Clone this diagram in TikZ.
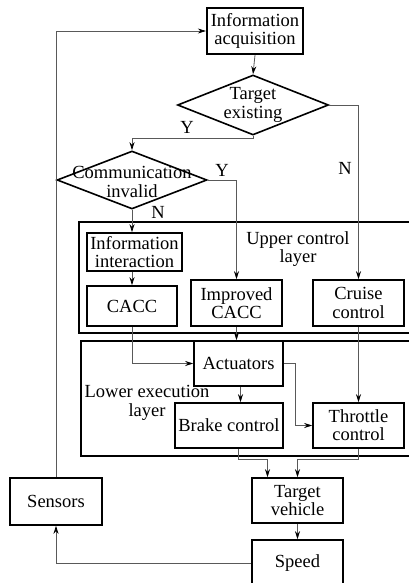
\documentclass[tikz,border=0pt]{standalone}
\usepackage{fontspec}
\setmainfont{Liberation Serif}
\usetikzlibrary{shapes.geometric,arrows.meta}
\begin{document}
\begin{tikzpicture}[x=1pt,y=-1pt,
 box/.style={draw,line width=1.6pt,inner sep=0pt,align=center,font=\fontsize{18.5}{18.3}\selectfont},
 dia/.style={draw,shape=diamond,line width=1.6pt,inner sep=0pt},
 txt/.style={align=center,inner sep=0pt,font=\fontsize{18.5}{18.3}\selectfont},
 layer/.style={draw,line width=1.6pt},
 conn/.style={draw=black!65,line width=0.8pt},
 arr/.style={conn,-{Stealth[length=8pt,width=5pt,black]}},
]
\clip (0,0) rectangle (409,583);
% layers
\draw[layer] (79,222) rectangle (430,333);
\draw[layer] (81,341) rectangle (430,456);
\node[txt] (ul) at (298,249) {Upper control\\layer};
\node[txt] (ll) at (147,403) {Lower execution\\layer};
% nodes
\node[box,line width=2.2pt,minimum width=96pt,minimum height=46pt] (acq) at (255,31) {Information\\acquisition};
\node[dia,minimum width=151pt,minimum height=60pt] (te) at (253,105) {};
\node[txt] (tet) at (253,105) {Target\\existing};
\node[dia,minimum width=150pt,minimum height=58pt] (ci) at (132,180) {};
\node[txt] (cit) at (132,182) {Communication\\invalid};
\node[box,minimum width=95pt,minimum height=38pt] (ii) at (134.5,252) {Information\\interaction};
\node[box,minimum width=90pt,minimum height=40pt] (ca) at (132,306) {CACC};
\node[box,minimum width=91pt,minimum height=46pt] (imp) at (236.5,303) {Improved\\CACC};
\node[box,minimum width=91pt,minimum height=46pt] (cc) at (358.5,303) {Cruise\\control};
\node[box,minimum width=89pt,minimum height=45pt] (act) at (238.5,363.5) {Actuators};
\node[box,minimum width=108pt,minimum height=45pt] (br) at (229,425.5) {Brake control};
\node[box,minimum width=91pt,minimum height=45pt] (th) at (358.5,425.5) {Throttle\\control};
\node[box,minimum width=91pt,minimum height=45pt] (tv) at (297.5,500.5) {Target\\vehicle};
\node[box,minimum width=91pt,minimum height=46pt] (sp) at (297.5,563) {Speed};
\node[box,minimum width=92pt,minimum height=47pt] (se) at (56,501.5) {Sensors};
% labels
\node[txt] (y1) at (187,127) {Y};
\node[txt] (n1) at (345,168) {N};
\node[txt] (y2) at (222,170) {Y};
\node[txt] (n2) at (158,212) {N};
% connectors
\draw[arr] (se.north) |- (acq.west);
\draw[arr] (sp.west) -| (se.south);
\draw[arr] (acq.south) -- (te.north);
\draw[arr] (te.east) -| (cc.north);
\draw[arr] (te.south) -- ++(0,3) -| (ci.north);
\draw[arr] (ci.east) -| (imp.north);
\draw[arr] (ci.south) -- (ci.south |- ii.north);
\draw[arr] (ca.north |- ii.south) -- (ca.north);
\draw[arr] (ca.south) |- (act.west);
\draw[arr] (imp.south) -- (imp.south |- act.north);
\draw[arr] (cc.south) -- (th.north);
\draw[arr] ([xshift=2pt]act.south) -- ([xshift=2pt]act.south |- br.north);
\draw[arr] (act.east) -- ++(12,0) |- (th.west);
\draw[arr] (br.south -| act.south) -- ++(0,11) -| ([xshift=-30pt]tv.north);
\draw[arr] (th.south) -- ++(0,11) -| (tv.north);
\draw[arr] (tv.south) -- (sp.north);
\end{tikzpicture}
\end{document}
